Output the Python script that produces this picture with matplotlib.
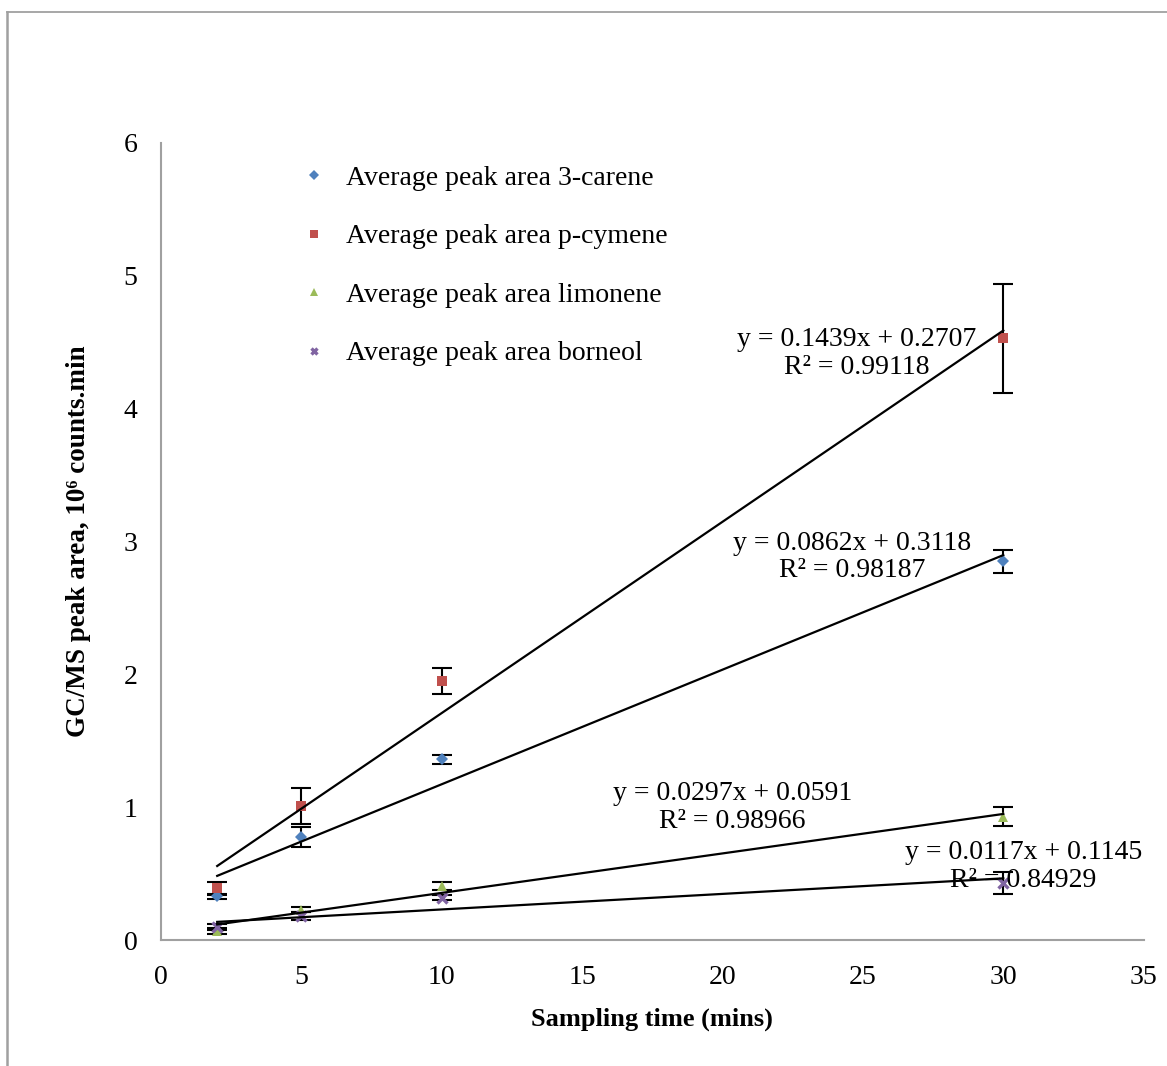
import matplotlib
matplotlib.use("Agg")
import matplotlib.pyplot as plt
import numpy as np

# ---- data ----
times = [2, 5, 10, 30]
carene = [0.33, 0.78, 1.36, 2.85]
carene_err = [0.02, 0.075, 0.035, 0.085]
cymene = [0.39, 1.01, 1.95, 4.53]
cymene_err = [0.05, 0.135, 0.10, 0.41]
limonene = [0.07, 0.23, 0.41, 0.93]
limonene_err = [0.02, 0.02, 0.03, 0.07]
borneol = [0.10, 0.18, 0.32, 0.43]
borneol_err = [0.02, 0.03, 0.02, 0.085]

series_names = ["Average peak area 3-carene", "Average peak area p-cymene",
                "Average peak area limonene", "Average peak area borneol"]
slopes = [0.0862, 0.1439, 0.0297, 0.0117]
intercepts = [0.3118, 0.2707, 0.0591, 0.1145]
eq_texts = ["y = 0.0862x + 0.3118\nR² = 0.98187",
            "y = 0.1439x + 0.2707\nR² = 0.99118",
            "y = 0.0297x + 0.0591\nR² = 0.98966",
            "y = 0.0117x + 0.1145\nR² = 0.84929"]
eq_pos = [(24.63, 2.884), (24.78, 4.416), (20.36, 1.0), (30.72, 0.557)]

xticks = [0, 5, 10, 15, 20, 25, 30, 35]
yticks = [0, 1, 2, 3, 4, 5, 6]

colors = ["#4F81BD", "#C0504D", "#9BBB59", "#8064A2"]
markers = ["D", "s", "^", "x"]
msizes = [6.5, 7.5, 7.5, 6.5]

FONT = ["Liberation Serif", "DejaVu Serif"]
plt.rcParams['font.family'] = FONT

fig = plt.figure(figsize=(11.67, 10.66), dpi=100)
# outer frame
fig.add_artist(plt.Line2D([0.0062, 0.0062], [0, 0.989], transform=fig.transFigure,
                          color="#A0A0A0", lw=1.8))
fig.add_artist(plt.Line2D([0.0062, 1.0], [0.989, 0.989], transform=fig.transFigure,
                          color="#A0A0A0", lw=1.3))

ax = fig.add_axes([0.138, 0.118, 0.842, 0.748])

data = [(carene, carene_err), (cymene, cymene_err), (limonene, limonene_err), (borneol, borneol_err)]
for i, (vals, errs) in enumerate(data):
    ax.errorbar(times, vals, yerr=errs, fmt="none", ecolor="black", elinewidth=1.5,
                capsize=7.5, capthick=1.5, zorder=2)
    mew = 2.4 if markers[i] == "x" else 0
    ax.plot(times, vals, linestyle="none", marker=markers[i], color=colors[i],
            markersize=msizes[i], markeredgewidth=mew, label=series_names[i], zorder=3)

for i in range(4):
    xs = np.array([times[0], times[-1]])
    ax.plot(xs, slopes[i] * xs + intercepts[i], color="black", lw=1.6, zorder=4)
    ax.text(eq_pos[i][0], eq_pos[i][1], eq_texts[i], ha="center", va="center",
            fontsize=20, linespacing=1.15, zorder=5)

ax.set_xlim(0, 35)
ax.set_ylim(0, 6)
ax.set_xticks(xticks)
ax.set_yticks(yticks)
ax.tick_params(length=0, labelsize=20)
ax.tick_params(axis="x", pad=18)
ax.tick_params(axis="y", pad=17)
for s in ["top", "right"]:
    ax.spines[s].set_visible(False)
for s in ["left", "bottom"]:
    ax.spines[s].set_color("#A0A0A0")
    ax.spines[s].set_linewidth(1.5)

ax.set_xlabel("Sampling time (mins)", fontsize=19, fontweight="bold")
ax.set_ylabel("GC/MS peak area, 10⁶ counts.min", fontsize=19.5, fontweight="bold")
ax.xaxis.set_label_coords(0.5, -0.085)
ax.yaxis.set_label_coords(-0.071, 0.5)

leg = ax.legend(loc="upper left", bbox_to_anchor=(0.116, 1.003), frameon=False,
                fontsize=20, labelspacing=1.19, handletextpad=0.65, handlelength=1.0,
                markerscale=0.75)

fig.savefig("out.png", dpi=100)
